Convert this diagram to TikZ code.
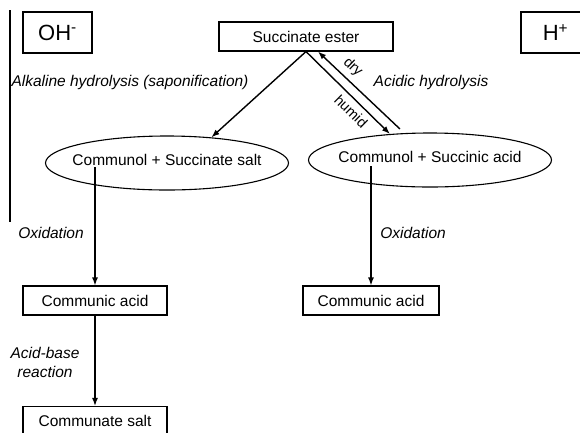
\documentclass[tikz,border=0pt]{standalone}
\usepackage{fontspec}
\setmainfont{Liberation Sans}
\usetikzlibrary{shapes.geometric,arrows.meta}

\begin{document}
\begin{tikzpicture}[x=1pt,y=-1pt,line width=1.1pt,
    box/.style={draw,rectangle,minimum height=29pt,font=\fontsize{15.5}{18}\selectfont},
    blob/.style={draw,ellipse,minimum width=243pt,minimum height=54pt,inner xsep=-20pt,text depth=7pt,font=\fontsize{15.5}{18}\selectfont},
    ion/.style={draw,rectangle,minimum width=69pt,minimum height=41pt,font=\fontsize{22}{26}\selectfont},
    note/.style={font=\fontsize{15.5}{19}\selectfont\itshape},
    tag/.style={font=\fontsize{14.5}{17}\selectfont},
    arr/.style={-{Latex[length=8pt,width=6pt]},line width=1.4pt}]
                \tikzstyle{every node}+=[inner sep=0pt]
                \useasboundingbox (0,0) rectangle (580,432);
                \draw (10,10) -- (10,222);
                \node [ion] (oh) at (57.5,32.5) {OH\textsuperscript{-}};
                \node [ion] (hplus) at (555.5,32.5) {H\textsuperscript{+}};
                \node [box,minimum width=174pt] (ester) at (306,36.5) {Succinate ester};
                \node [blob] (ssalt) at (167,163) {Communol + Succinate salt};
                \node [blob] (sacid) at (430,160) {Communol + Succinic acid};
                \node [box,minimum width=144pt] (cacidL) at (95,300.5) {Communic acid};
                \node [box,minimum width=136pt] (cacidR) at (371,300.5) {Communic acid};
                \node [box,minimum width=144pt] (csalt) at (95,421) {Communate salt};
                \node [note] (alk) at (130,82) {Alkaline hydrolysis (saponification)};
                \node [note] (acd) at (431,82) {Acidic hydrolysis};
                \node [note] (oxL) at (51,233) {Oxidation};
                \node [note] (oxR) at (413,233) {Oxidation};
                \node [note,align=center] (ab) at (45,362) {Acid-base\\reaction};
                \draw [arr] (ester.south) -- (ssalt.30);
                \draw [arr] (ester.south) -- node [tag,sloped,below=5pt,pos=0.63] {humid} (sacid.147);
                \draw [arr,{Latex[length=8pt,width=6pt]}-] ([xshift=12pt]ester.south) -- node [tag,sloped,above=5pt,pos=0.32] {dry} ([xshift=10pt,yshift=5pt]sacid.147);
                \draw [arr] ([yshift=-4pt]cacidL.north |- ssalt.center) -- (cacidL.north);
                \draw [arr] ([yshift=-6pt]cacidR.north |- sacid.center) -- (cacidR.north);
                \draw [arr] (cacidL.south) -- (csalt.north);
                \end{tikzpicture}
\end{document}
